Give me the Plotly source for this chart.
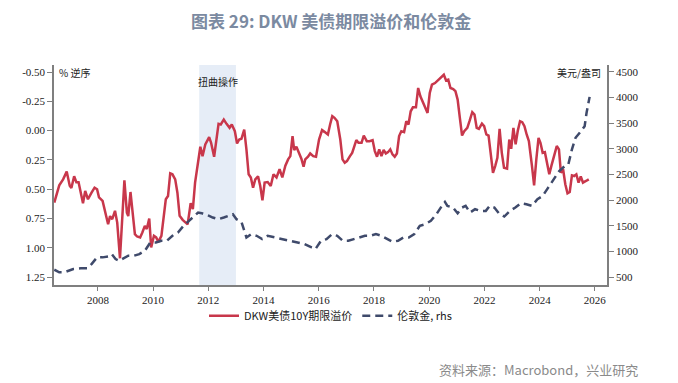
import plotly.graph_objects as go

# DKW 10Y term premium (%, plotted on reversed axis)
tp_x = [2006.42, 2006.6, 2006.74, 2006.87, 2006.98, 2007.04, 2007.14, 2007.22, 2007.3, 2007.38,
        2007.46, 2007.54, 2007.64, 2007.77, 2007.88, 2007.97, 2008.04, 2008.17, 2008.28, 2008.37,
        2008.44, 2008.52, 2008.62, 2008.70, 2008.80, 2008.86, 2008.96, 2009.05, 2009.10, 2009.18,
        2009.26, 2009.34, 2009.42, 2009.53, 2009.61, 2009.70, 2009.77, 2009.86, 2009.93, 2010.03,
        2010.11, 2010.19, 2010.30, 2010.38, 2010.46, 2010.54, 2010.62, 2010.70, 2010.80, 2010.88,
        2010.96, 2011.07, 2011.17, 2011.25, 2011.36, 2011.44, 2011.52, 2011.63, 2011.71, 2011.79,
        2011.89, 2012.03, 2012.10, 2012.21, 2012.29, 2012.37, 2012.45, 2012.56, 2012.66, 2012.77,
        2012.85, 2012.96, 2013.04, 2013.12, 2013.20, 2013.30, 2013.38, 2013.46, 2013.54, 2013.62,
        2013.70, 2013.80, 2013.88, 2013.96, 2014.04, 2014.15, 2014.26, 2014.36, 2014.47, 2014.58,
        2014.68, 2014.79, 2014.89, 2014.97, 2015.05, 2015.11, 2015.19, 2015.29, 2015.37, 2015.45,
        2015.51, 2015.61, 2015.69, 2015.80, 2015.90, 2016.01, 2016.12, 2016.22, 2016.33, 2016.41,
        2016.49, 2016.57, 2016.67, 2016.78, 2016.86, 2016.94, 2017.02, 2017.13, 2017.21, 2017.29,
        2017.36, 2017.44, 2017.55, 2017.63, 2017.74, 2017.84, 2017.95, 2018.03, 2018.11, 2018.19,
        2018.27, 2018.35, 2018.43, 2018.51, 2018.59, 2018.67, 2018.75, 2018.83, 2018.91, 2018.99,
        2019.09, 2019.17, 2019.25, 2019.33, 2019.41, 2019.52, 2019.60, 2019.68, 2019.78, 2019.86,
        2019.94, 2020.02, 2020.10, 2020.21, 2020.31, 2020.42, 2020.53, 2020.61, 2020.69, 2020.77,
        2020.87, 2020.95, 2021.03, 2021.11, 2021.19, 2021.27, 2021.38, 2021.46, 2021.56, 2021.64,
        2021.72, 2021.80, 2021.91, 2021.99, 2022.07, 2022.15, 2022.23, 2022.31, 2022.39, 2022.47,
        2022.55, 2022.63, 2022.71, 2022.82, 2022.90, 2022.97, 2023.05, 2023.13, 2023.21, 2023.29,
        2023.37, 2023.45, 2023.53, 2023.61, 2023.72, 2023.80, 2023.88, 2023.96, 2024.03, 2024.11,
        2024.19, 2024.27, 2024.35, 2024.43, 2024.51, 2024.62, 2024.70, 2024.77, 2024.85, 2024.93,
        2025.01, 2025.09, 2025.17, 2025.25, 2025.33, 2025.41, 2025.49, 2025.57, 2025.68, 2025.78]
tp_y = [0.615, 0.467, 0.416, 0.35, 0.47, 0.49, 0.39, 0.44, 0.44, 0.53,
        0.62, 0.515, 0.586, 0.53, 0.487, 0.50, 0.57, 0.60, 0.70, 0.80,
        0.73, 0.756, 0.685, 0.785, 1.09, 0.81, 0.425, 0.70, 0.73, 0.524,
        0.70, 0.884, 0.904, 0.912, 0.87, 0.813, 0.84, 0.75, 0.997, 0.898,
        0.912, 0.95, 0.898, 0.756, 0.586, 0.558, 0.365, 0.373, 0.416, 0.53,
        0.728, 0.762, 0.785, 0.80, 0.62, 0.67, 0.444, 0.246, 0.138, 0.218,
        0.118, 0.056, 0.104, 0.223, 0.076, -0.058, -0.052, -0.094, -0.058, -0.024,
        -0.052, 0.005, 0.11, 0.076, 0.07, -0.009, 0.16, 0.373, 0.40, 0.487,
        0.416, 0.39, 0.473, 0.595, 0.444, 0.439, 0.473, 0.373, 0.40, 0.33,
        0.40, 0.30, 0.246, 0.218, 0.047, 0.166, 0.138, 0.195, 0.24, 0.308,
        0.246, 0.223, 0.195, 0.218, 0.223, 0.076, -0.004, 0.013, 0.033, -0.052,
        -0.123, -0.109, -0.08, 0.076, 0.246, 0.274, 0.26, 0.218, 0.19, 0.132,
        0.081, 0.104, 0.104, 0.042, 0.09, 0.09, 0.081, 0.175, 0.223, 0.16,
        0.218, 0.166, 0.195, 0.184, 0.16, 0.203, 0.223, 0.195, 0.047, 0.005,
        0.013, -0.08, -0.052, -0.165, -0.199, -0.199, -0.364, -0.293, -0.236, -0.194,
        -0.151, -0.321, -0.392, -0.406, -0.429, -0.449, -0.477, -0.429, -0.435, -0.364,
        -0.355, -0.336, -0.265, -0.109, 0.042, 0.005, -0.024, -0.08, -0.157, -0.137,
        -0.024, -0.015, -0.06, -0.038, 0.033, 0.042, 0.218, 0.36, 0.303, 0.232,
        -0.015, 0.19, 0.317, 0.325, 0.076, 0.155, -0.024, 0.118, 0.0, -0.08,
        -0.072, -0.038, 0.033, 0.09, 0.297, 0.467, 0.246, 0.062, 0.104, 0.19,
        0.184, 0.297, 0.373, 0.297, 0.218, 0.132, 0.16, 0.36, 0.33, 0.458,
        0.535, 0.524, 0.382, 0.388, 0.373, 0.444, 0.39, 0.444, 0.43, 0.416]

# London gold (USD/oz, rhs)
gold_x = [2006.42, 2006.6, 2006.78, 2007.11, 2007.38, 2007.61, 2007.77, 2007.97, 2008.17, 2008.37,
          2008.5, 2008.64, 2008.77, 2008.90, 2009.10, 2009.30, 2009.50, 2009.70, 2009.90, 2010.10,
          2010.30, 2010.50, 2010.70, 2010.90, 2011.10, 2011.30, 2011.50, 2011.63, 2011.76, 2011.89,
          2012.03, 2012.16, 2012.36, 2012.56, 2012.76, 2012.89, 2013.02, 2013.20, 2013.38, 2013.55,
          2013.75, 2013.95, 2014.15, 2014.42, 2014.68, 2014.95, 2015.21, 2015.48, 2015.74, 2015.88,
          2016.08, 2016.28, 2016.48, 2016.67, 2016.87, 2017.07, 2017.27, 2017.47, 2017.67, 2017.87,
          2018.07, 2018.27, 2018.47, 2018.67, 2018.87, 2019.07, 2019.26, 2019.46, 2019.66, 2019.86,
          2020.06, 2020.26, 2020.46, 2020.57, 2020.66, 2020.86, 2021.03, 2021.19, 2021.32, 2021.48,
          2021.66, 2021.86, 2022.05, 2022.19, 2022.36, 2022.52, 2022.72, 2022.92, 2023.12, 2023.32,
          2023.52, 2023.72, 2023.92, 2024.11, 2024.31, 2024.51, 2024.71, 2024.91, 2025.04, 2025.17,
          2025.30, 2025.50, 2025.63, 2025.70, 2025.81]
gold_y = [643, 591, 591, 656, 669, 669, 753, 883, 883, 902,
          947, 850, 818, 863, 915, 915, 947, 1012, 1174, 1174,
          1207, 1207, 1304, 1369, 1498, 1596, 1693, 1758, 1745, 1725,
          1693, 1660, 1628, 1660, 1706, 1725, 1628, 1576, 1271, 1336,
          1304, 1239, 1304, 1271, 1239, 1207, 1174, 1142, 1077, 1045,
          1207, 1239, 1336, 1304, 1207, 1207, 1239, 1271, 1304, 1304,
          1336, 1304, 1239, 1187, 1207, 1271, 1271, 1336, 1498, 1531,
          1596, 1725, 1887, 1965, 1887, 1855, 1745, 1855, 1887, 1758,
          1823, 1790, 1790, 1887, 1855, 1745, 1680, 1790, 1855, 1939,
          1920, 1887, 2017, 2082, 2244, 2406, 2568, 2665, 2698, 2990,
          3216, 3346, 3443, 3703, 4014]

left_ticks = [-0.5, -0.25, 0.0, 0.25, 0.5, 0.75, 1.0, 1.25]
left_labels = ["-0.50", "-0.25", "0.00", "0.25", "0.50", "0.75", "1.00", "1.25"]
right_ticks = [500, 1000, 1500, 2000, 2500, 3000, 3500, 4000, 4500]
year_ticks = [2008, 2010, 2012, 2014, 2016, 2018, 2020, 2022, 2024, 2026]
twist_start, twist_end = 2011.67, 2013.0

RED = "#c8374b"
NAVY = "#3f4a6b"
AXIS = "#7f7f7f"
cjk = "Noto Sans CJK SC"
serif = "Liberation Serif"

fig = go.Figure()
fig.add_trace(go.Scatter(x=tp_x, y=tp_y, mode="lines", name="DKW美债10Y期限溢价",
                         line=dict(color=RED, width=2.5), yaxis="y"))
fig.add_trace(go.Scatter(x=gold_x, y=gold_y, mode="lines", name="伦敦金, rhs",
                         line=dict(color=NAVY, width=2.5, dash="8px,5px"), yaxis="y2"))

fig.add_shape(type="rect", xref="x", yref="paper", x0=twist_start, x1=twist_end, y0=0, y1=1,
              fillcolor="#e6edf7", line=dict(width=0), layer="below")

# page body has an 8px margin, so the figure is sized 8px smaller and offset accordingly
fig.update_layout(
    width=670, height=375,
    margin=dict(l=46, r=71, t=57, b=98),
    paper_bgcolor="white", plot_bgcolor="white",
    showlegend=True,
    legend=dict(orientation="h", x=0.5, xanchor="center", y=-0.14, yanchor="middle",
                font=dict(family=cjk, size=11, color="#222"), bgcolor="rgba(0,0,0,0)",
                itemwidth=30, tracegroupgap=0),
    xaxis=dict(range=[2006.41, 2026.44], tickvals=year_ticks, ticktext=[str(v) for v in year_ticks],
               showgrid=False, zeroline=False, showline=True, linecolor=AXIS, linewidth=1.5,
               ticks="outside", ticklen=4, tickcolor=AXIS,
               tickfont=dict(family=serif, size=11, color="#222")),
    yaxis=dict(range=[1.318, -0.56], tickvals=left_ticks, ticktext=left_labels,
               showgrid=False, zeroline=False, showline=True, linecolor=AXIS, linewidth=1.5,
               ticks="outside", ticklen=5, tickcolor=AXIS,
               tickfont=dict(family=serif, size=11, color="#222")),
    yaxis2=dict(range=[344, 4636], tickvals=right_ticks, ticktext=[str(v) for v in right_ticks],
                overlaying="y", side="right",
                showgrid=False, zeroline=False, showline=True, linecolor=AXIS, linewidth=1.5,
                ticks="outside", ticklen=5, tickcolor=AXIS,
                tickfont=dict(family=serif, size=11, color="#222")),
    annotations=[
        dict(text="<b>图表 29: DKW 美债期限溢价和伦敦金</b>", xref="paper", yref="paper",
             x=0.5, y=1, yshift=45, xanchor="center", yanchor="middle", showarrow=False,
             font=dict(family=cjk, size=17, color="#7b8aa1")),
        dict(text="% 逆序", xref="paper", yref="paper", x=0, xshift=3, y=1, yshift=2,
             xanchor="left", yanchor="top", showarrow=False,
             font=dict(family=cjk, size=10, color="#222")),
        dict(text="美元/盎司", xref="paper", yref="paper", x=1, xshift=-4, y=1, yshift=2,
             xanchor="right", yanchor="top", showarrow=False,
             font=dict(family=cjk, size=10, color="#222")),
        dict(text="扭曲操作", xref="x", yref="paper", x=(twist_start + twist_end) / 2, y=1, yshift=-16,
             xanchor="center", yanchor="middle", showarrow=False,
             font=dict(family=cjk, size=10, color="#222")),
        dict(text="资料来源：Macrobond，兴业研究", xref="paper", yref="paper", x=1, xshift=33,
             y=0, yshift=-84, xanchor="right", yanchor="middle", showarrow=False,
             font=dict(family=cjk, size=13, color="#8a8a8a")),
    ],
)

fig.write_html("out.html")
